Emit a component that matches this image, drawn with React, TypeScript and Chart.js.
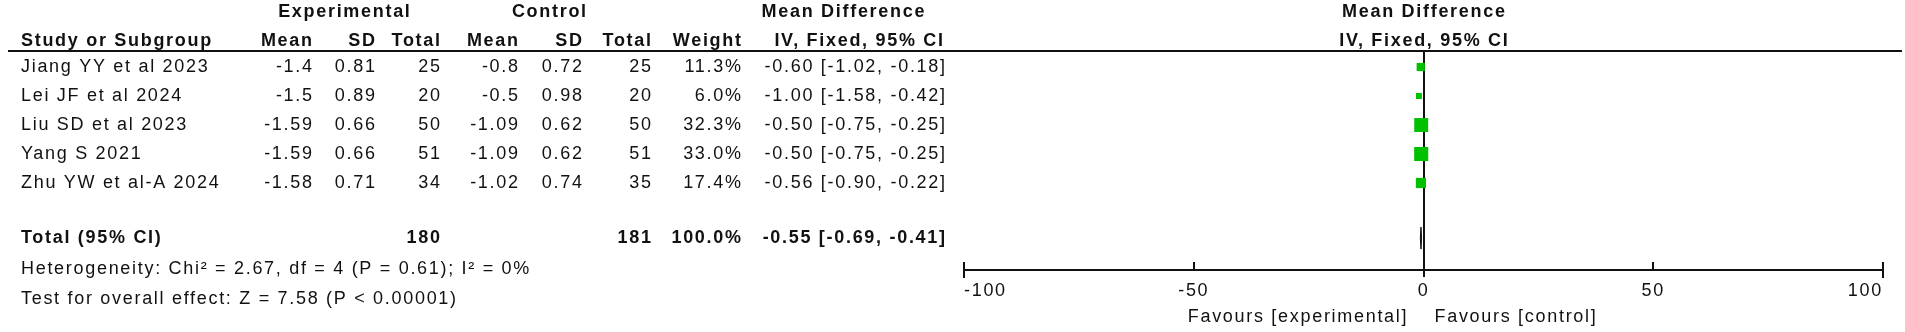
import React, { useEffect, useRef } from 'react';
import { Chart, registerables } from 'chart.js';

Chart.register(...registerables);

// ---------- data ----------
const studies = [
  'Jiang YY et al 2023',
  'Lei JF et al 2024',
  'Liu SD et al 2023',
  'Yang S 2021',
  'Zhu YW et al-A 2024',
];
const expMean = [-1.4, -1.5, -1.59, -1.59, -1.58];
const expSD = [0.81, 0.89, 0.66, 0.66, 0.71];
const expN = [25, 20, 50, 51, 34];
const ctlMean = [-0.8, -0.5, -1.09, -1.09, -1.02];
const ctlSD = [0.72, 0.98, 0.62, 0.62, 0.74];
const ctlN = [25, 20, 50, 51, 35];
const weights = [11.3, 6.0, 32.3, 33.0, 17.4];
const meanDiff = [-0.6, -1.0, -0.5, -0.5, -0.56];
const ciLow = [-1.02, -1.58, -0.75, -0.75, -0.9];
const ciHigh = [-0.18, -0.42, -0.25, -0.25, -0.22];
const totalExpN = 180;
const totalCtlN = 181;
const totalWeight = 100.0;
const totalMD = -0.55;
const totalLow = -0.69;
const totalHigh = -0.41;
const xTicks = [-100, -50, 0, 50, 100];
const heterogeneityText = 'Heterogeneity: Chi\u00B2 = 2.67, df = 4 (P = 0.61); I\u00B2 = 0%';
const overallText = 'Test for overall effect: Z = 7.58 (P < 0.00001)';
const favoursLeft = 'Favours [experimental]';
const favoursRight = 'Favours [control]';

// ---------- layout / style ----------
const FONT = '"Liberation Sans", Arial, Helvetica, sans-serif';
const FS = 18;
const LS = 1.7;
const INK = '#111111';
const GREEN = '#00c000';
const TOTAL_ROW = 5.9;

// column anchors (right edges unless noted)
const COL = {
  name: 21,
  expMean: 312,
  expSD: 375,
  expN: 440,
  ctlMean: 518,
  ctlSD: 582,
  ctlN: 651,
  weight: 741,
  ci: 945,
};

type Align = 'left' | 'right' | 'center';

function txt(ctx: CanvasRenderingContext2D, s: string, x: number, y: number, align: Align, bold = false) {
  ctx.font = `${bold ? 'bold ' : ''}${FS}px ${FONT}`;
  (ctx as any).letterSpacing = `${LS}px`;
  ctx.textAlign = align;
  ctx.textBaseline = 'middle';
  ctx.fillStyle = INK;
  let xx = x;
  if (align === 'right') xx = x + LS;
  else if (align === 'center') xx = x + LS / 2;
  ctx.fillText(s, xx, y);
}

const fmtCI = (m: number, l: number, h: number) => `${m.toFixed(2)} [${l.toFixed(2)}, ${h.toFixed(2)}]`;

const forestPlugin = {
  id: 'forestPlot',
  beforeDraw(chart: any) {
    // letter spacing for the axis tick labels drawn by Chart.js
    (chart.ctx as any).letterSpacing = `${LS}px`;
  },
  beforeDatasetsDraw(chart: any) {
    const { ctx, chartArea, scales } = chart;
    const xs = scales.x;
    const ys = scales.y;
    ctx.save();
    ctx.strokeStyle = INK;
    // header rule
    ctx.lineWidth = 2;
    ctx.beginPath();
    ctx.moveTo(8, chartArea.top);
    ctx.lineTo(1902, chartArea.top);
    ctx.stroke();
    // tick marks & zero line
    xTicks.forEach((v) => {
      const px = Math.round(xs.getPixelForValue(v));
      ctx.beginPath();
      if (v === 0) {
        ctx.moveTo(px, chartArea.top);
        ctx.lineTo(px, chartArea.bottom + 7);
      } else if (Math.abs(v) === 100) {
        ctx.moveTo(px, chartArea.bottom - 8);
        ctx.lineTo(px, chartArea.bottom + 8);
      } else {
        ctx.moveTo(px, chartArea.bottom - 8);
        ctx.lineTo(px, chartArea.bottom);
      }
      ctx.stroke();
    });
    // CI whiskers
    ctx.lineWidth = 1;
    meanDiff.forEach((_, i) => {
      const y = ys.getPixelForValue(i);
      ctx.beginPath();
      ctx.moveTo(xs.getPixelForValue(ciLow[i]), y);
      ctx.lineTo(xs.getPixelForValue(ciHigh[i]), y);
      ctx.stroke();
    });
    ctx.restore();
  },
  afterDraw(chart: any) {
    const { ctx, scales } = chart;
    const xs = scales.x;
    const ys = scales.y;
    ctx.save();
    // diamond
    const ty = ys.getPixelForValue(TOTAL_ROW);
    ctx.fillStyle = INK;
    ctx.strokeStyle = INK;
    ctx.lineWidth = 1;
    ctx.beginPath();
    ctx.moveTo(xs.getPixelForValue(totalLow), ty);
    ctx.lineTo(xs.getPixelForValue(totalMD), ty - 11);
    ctx.lineTo(xs.getPixelForValue(totalHigh), ty);
    ctx.lineTo(xs.getPixelForValue(totalMD), ty + 11);
    ctx.closePath();
    ctx.fill();
    ctx.stroke();

    // headers
    const h1 = 12;
    const h2 = 41;
    const zeroX = xs.getPixelForValue(0);
    txt(ctx, 'Experimental', 344, h1, 'center', true);
    txt(ctx, 'Control', 549, h1, 'center', true);
    txt(ctx, 'Mean Difference', 843, h1, 'center', true);
    txt(ctx, 'Mean Difference', zeroX, h1, 'center', true);
    txt(ctx, 'Study or Subgroup', COL.name, h2, 'left', true);
    txt(ctx, 'Mean', COL.expMean, h2, 'right', true);
    txt(ctx, 'SD', COL.expSD, h2, 'right', true);
    txt(ctx, 'Total', COL.expN, h2, 'right', true);
    txt(ctx, 'Mean', COL.ctlMean, h2, 'right', true);
    txt(ctx, 'SD', COL.ctlSD, h2, 'right', true);
    txt(ctx, 'Total', COL.ctlN, h2, 'right', true);
    txt(ctx, 'Weight', COL.weight, h2, 'right', true);
    txt(ctx, 'IV, Fixed, 95% CI', COL.ci - 2, h2, 'right', true);
    txt(ctx, 'IV, Fixed, 95% CI', zeroX, h2, 'center', true);

    // study rows
    studies.forEach((name, i) => {
      const y = ys.getPixelForValue(i);
      txt(ctx, name, COL.name, y, 'left');
      txt(ctx, String(expMean[i]), COL.expMean, y, 'right');
      txt(ctx, expSD[i].toFixed(2), COL.expSD, y, 'right');
      txt(ctx, String(expN[i]), COL.expN, y, 'right');
      txt(ctx, String(ctlMean[i]), COL.ctlMean, y, 'right');
      txt(ctx, ctlSD[i].toFixed(2), COL.ctlSD, y, 'right');
      txt(ctx, String(ctlN[i]), COL.ctlN, y, 'right');
      txt(ctx, `${weights[i].toFixed(1)}%`, COL.weight, y, 'right');
      txt(ctx, fmtCI(meanDiff[i], ciLow[i], ciHigh[i]), COL.ci, y, 'right');
    });

    // total row
    txt(ctx, 'Total (95% CI)', COL.name, ty, 'left', true);
    txt(ctx, String(totalExpN), COL.expN, ty, 'right', true);
    txt(ctx, String(totalCtlN), COL.ctlN, ty, 'right', true);
    txt(ctx, `${totalWeight.toFixed(1)}%`, COL.weight, ty, 'right', true);
    txt(ctx, fmtCI(totalMD, totalLow, totalHigh), COL.ci, ty, 'right', true);

    txt(ctx, heterogeneityText, COL.name, 269, 'left');
    txt(ctx, overallText, COL.name, 299, 'left');

    txt(ctx, favoursLeft, zeroX - 17, 317, 'right');
    txt(ctx, favoursRight, zeroX + 11, 317, 'left');
    ctx.restore();
  },
};

export default function App() {
  const ref = useRef<HTMLCanvasElement>(null);
  useEffect(() => {
    const canvas = ref.current;
    if (!canvas) return;
    const chart = new Chart(canvas, {
      type: 'scatter',
      data: {
        datasets: [
          {
            data: meanDiff.map((m, i) => ({ x: m, y: i })),
            pointStyle: 'rect',
            pointRadius: weights.map((w) => (2.45 * Math.sqrt(w)) / Math.SQRT2),
            backgroundColor: GREEN,
            borderWidth: 0,
          },
        ],
      },
      options: {
        animation: false,
        responsive: false,
        devicePixelRatio: 1,
        events: [],
        layout: { padding: { left: 964, right: 22, top: 51, bottom: 0 } },
        plugins: { legend: { display: false }, tooltip: { enabled: false } },
        scales: {
          x: {
            type: 'linear',
            position: 'bottom',
            min: -100,
            max: 100,
            afterFit: (s: any) => {
              s.height = 62;
            },
            afterBuildTicks: (s: any) => {
              s.ticks = xTicks.map((v) => ({ value: v }));
            },
            ticks: {
              font: { family: FONT, size: FS },
              color: INK,
              padding: 10,
              maxRotation: 0,
              autoSkip: false,
              align: 'inner',
            },
            grid: { display: false, drawTicks: false },
            border: { display: true, color: INK, width: 2 },
          },
          y: {
            type: 'linear',
            display: false,
            min: -0.552,
            max: 7,
            reverse: true,
          },
        },
      },
      plugins: [forestPlugin],
    } as any);
    return () => chart.destroy();
  }, []);
  return (
    <div style={{ position: 'fixed', left: 0, top: 0, width: 1905, height: 332, background: '#fff' }}>
      <canvas ref={ref} width={1905} height={332} style={{ display: 'block' }} />
    </div>
  );
}
